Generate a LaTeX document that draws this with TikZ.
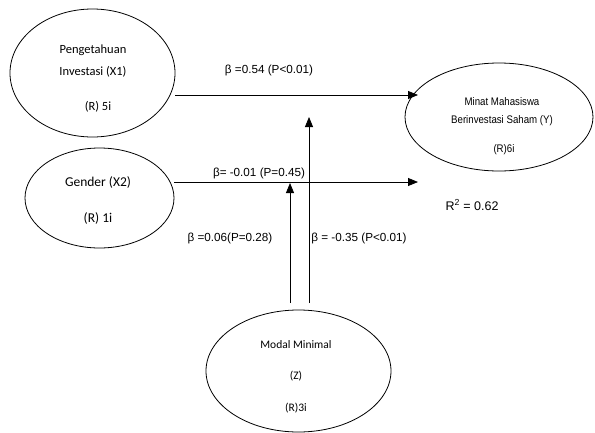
\documentclass[tikz,border=0pt]{standalone}
\usepackage{fontspec}
\setmainfont{Carlito}
\newfontfamily\arialf{Liberation Sans}
\usetikzlibrary{shapes.geometric,arrows.meta}
\begin{document}
\begin{tikzpicture}[x=1pt,y=-1pt,
  ell/.style={draw, ellipse, line width=0.8pt, inner sep=0pt},
  etext/.style={font=\fontsize{12.5}{14}\selectfont, inner sep=0pt, anchor=center},
  gtext/.style={font=\fontsize{13.5}{15}\selectfont, inner sep=0pt, anchor=center},
  ztext/.style={font=\fontsize{11.5}{13}\selectfont, inner sep=0pt, anchor=center},
  ytext/.style={font=\arialf\fontsize{11}{13}\selectfont, inner sep=0pt},
  lab/.style={font=\arialf\fontsize{11.7}{13}\selectfont, inner sep=0pt},
  arr/.style={line width=0.8pt, -{Triangle[length=10pt,width=8pt]}}]
\useasboundingbox (0,0) rectangle (595,432);
% ellipses
\node[ell, minimum width=165, minimum height=128] (x1) at (92.5,73) {};
\node[ell, minimum width=149, minimum height=100] (x2) at (99.5,198) {};
\node[ell, minimum width=188, minimum height=108] (y) at (499,117) {};
\node[ell, minimum width=185, minimum height=122] (z) at (298.5,371) {};
% texts
\node[etext] (x1a) at (93,50) {Pengetahuan};
\node[etext] (x1b) at (93,72) {Investasi (X1)};
\node[etext] (x1c) at (98,107) {(R) 5i};
\node[gtext] (x2a) at (98,182) {Gender (X2)};
\node[gtext] (x2b) at (98,218) {(R) 1i};
\node[ytext] (ya) at (502,102) {\scalebox{0.88}[1]{Minat Mahasiswa}};
\node[ytext] (yb) at (502,121) {\scalebox{0.88}[1]{Berinvestasi Saham (Y)}};
\node[ytext] (yc) at (504,150) {\scalebox{0.88}[1]{(R)6i}};
\node[ztext] (za) at (296,345) {Modal Minimal};
\node[ztext] (zb) at (296,376) {(Z)};
\node[ztext] (zc) at (296,408) {(R)3i};
% connector endpoints
\coordinate (a1s) at (175,95);
\coordinate (a1e) at (418,95);
\coordinate (a2s) at (174,182);
\coordinate (a2e) at (418,182);
\coordinate (v1s) at (290,303);
\coordinate (v1e) at (290,183);
\coordinate (v2s) at (309,303);
\coordinate (v2e) at (309,117);
\draw[arr] (a1s) -- (a1e);
\draw[arr] (a2s) -- (a2e);
\draw[arr] (v1s) -- (v1e);
\draw[arr] (v2s) -- (v2e);
% labels
\node[lab] (l1) at (269,70) {β =0.54 (P<0.01)};
\node[lab] (l2) at (259,173) {β= -0.01 (P=0.45)};
\node[lab] (l3) at (230,238) {β =0.06(P=0.28)};
\node[lab] (l4) at (359,238) {β = -0.35 (P<0.01)};
\node[lab, font=\arialf\fontsize{12.5}{14}\selectfont] (l5) at (472,205) {R\textsuperscript{2} = 0.62};
\end{tikzpicture}
\end{document}
